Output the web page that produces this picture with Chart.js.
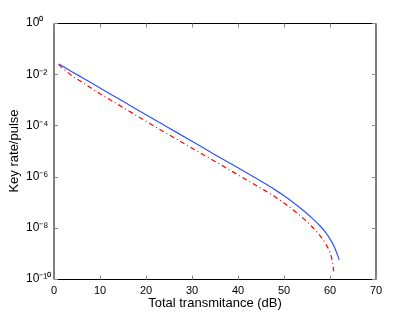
<!DOCTYPE html>
<html>
<head>
<meta charset="utf-8">
<script src="https://cdn.jsdelivr.net/npm/chart.js@4"></script>
<style>
html, body { margin: 0; padding: 0; background: #fff; }
</style>
</head>
<body>
<canvas id="myChart" width="415" height="314"></canvas>
<script>
// data
var xTicks = [0, 10, 20, 30, 40, 50, 60, 70];
var yTicks = [1e-10, 1e-8, 1e-6, 1e-4, 1e-2, 1];
var yTickLabels = ['10⁻¹⁰', '10⁻⁸', '10⁻⁶', '10⁻⁴', '10⁻²', '10⁰'];

var blueX = [1, 2, 4, 6, 8, 10, 15, 20, 25, 30, 35, 40, 45, 48, 50, 52, 54, 56, 58, 59, 60, 61, 61.5, 62];
var blueY = [2.5e-2, 2.0e-2, 1.23e-2, 7.6e-3, 4.7e-3, 2.9e-3, 8.7e-4, 2.6e-4, 7.9e-5, 2.4e-5, 7.2e-6, 2.2e-6,
             6.6e-7, 3.1e-7, 1.78e-7, 9.8e-8, 5.1e-8, 2.5e-8, 1.1e-8, 6.8e-9, 3.7e-9, 1.7e-9, 1.0e-9, 5.6e-10];

var redX = [1, 2, 4, 6, 8, 10, 15, 20, 25, 30, 35, 40, 45, 48, 50, 52, 54, 56, 57, 58, 59, 60, 60.5, 60.8];
var redY = [2.4e-2, 1.66e-2, 8.5e-3, 5.0e-3, 2.95e-3, 1.74e-3, 5.0e-4, 1.45e-4, 4.3e-5, 1.29e-5, 3.9e-6, 1.17e-6,
            3.5e-7, 1.66e-7, 9.3e-8, 5.0e-8, 2.5e-8, 1.15e-8, 7.4e-9, 4.5e-9, 2.45e-9, 1.07e-9, 5.0e-10, 2.0e-10];

var FONT = "'Liberation Sans', Arial, sans-serif";

function pts(xs, ys) {
    return xs.map(function (x, i) { return { x: x, y: ys[i] }; });
}

// box, inward ticks and the rotated y title
var frame = {
    id: 'frame',
    afterDraw: function (chart) {
        var c = chart.ctx, a = chart.chartArea;
        var xs = chart.scales.x, ys = chart.scales.y;
        var L = Math.round(a.left), R = Math.round(a.right);
        var T = Math.round(a.top) + 0.5, B = Math.round(a.bottom) + 0.5;
        c.save();
        c.lineWidth = 1;
        c.strokeStyle = '#000';
        c.beginPath();
        c.moveTo(L, T); c.lineTo(R, T);
        c.moveTo(L, B); c.lineTo(R, B);
        c.moveTo(L, T); c.lineTo(L, B);
        c.moveTo(R, T); c.lineTo(R, B);
        c.stroke();
        c.strokeStyle = '#888';
        c.beginPath();
        xTicks.forEach(function (v) {
            var px = Math.round(xs.getPixelForValue(v)) + 0.5;
            c.moveTo(px, B); c.lineTo(px, B - 4);
            c.moveTo(px, T); c.lineTo(px, T + 4);
        });
        yTicks.forEach(function (v) {
            var py = Math.round(ys.getPixelForValue(v)) + 0.5;
            c.moveTo(L, py); c.lineTo(L + 4, py);
            c.moveTo(R, py); c.lineTo(R - 4, py);
        });
        c.stroke();
        c.fillStyle = '#000';
        c.font = '13px ' + FONT;
        c.textAlign = 'center';
        c.textBaseline = 'middle';
        c.translate(14, (a.top + a.bottom) / 2);
        c.rotate(-Math.PI / 2);
        c.fillText('Key rate/pulse', 0, 0);
        c.restore();
    }
};

new Chart('myChart', {
    type: 'line',
    data: {
        datasets: [{
            data: pts(blueX, blueY),
            borderColor: '#3050ff',
            borderWidth: 1.2,
            pointRadius: 0,
            cubicInterpolationMode: 'monotone'
        }, {
            data: pts(redX, redY),
            borderColor: '#ff0000',
            borderWidth: 1.2,
            borderDash: [5, 3, 1, 3],
            pointRadius: 0,
            cubicInterpolationMode: 'monotone'
        }]
    },
    options: {
        responsive: false,
        animation: false,
        layout: { padding: { left: 26, top: 23, right: 39, bottom: 0 } },
        plugins: { legend: { display: false }, tooltip: { enabled: false } },
        scales: {
            x: {
                type: 'linear',
                min: 0,
                max: 70,
                grid: { display: false, drawTicks: false },
                border: { display: false },
                afterBuildTicks: function (s) { s.ticks = xTicks.map(function (v) { return { value: v }; }); },
                afterFit: function (s) { s.height = 35; },
                ticks: { color: '#000', font: { size: 11, family: FONT }, padding: 5, maxRotation: 0 },
                title: {
                    display: true,
                    text: 'Total transmitance (dB)',
                    color: '#000',
                    font: { size: 13, family: FONT },
                    padding: { top: 0, bottom: 3 }
                }
            },
            y: {
                type: 'logarithmic',
                min: 1e-10,
                max: 1,
                grid: { display: false, drawTicks: false },
                border: { display: false },
                afterBuildTicks: function (s) { s.ticks = yTicks.map(function (v) { return { value: v }; }); },
                afterFit: function (s) { s.width = 28; },
                ticks: {
                    color: '#000',
                    font: { size: 12, family: FONT },
                    crossAlign: 'far',
                    callback: function (v) { return yTickLabels[yTicks.indexOf(v)]; }
                }
            }
        }
    },
    plugins: [frame]
});
</script>
</body>
</html>
